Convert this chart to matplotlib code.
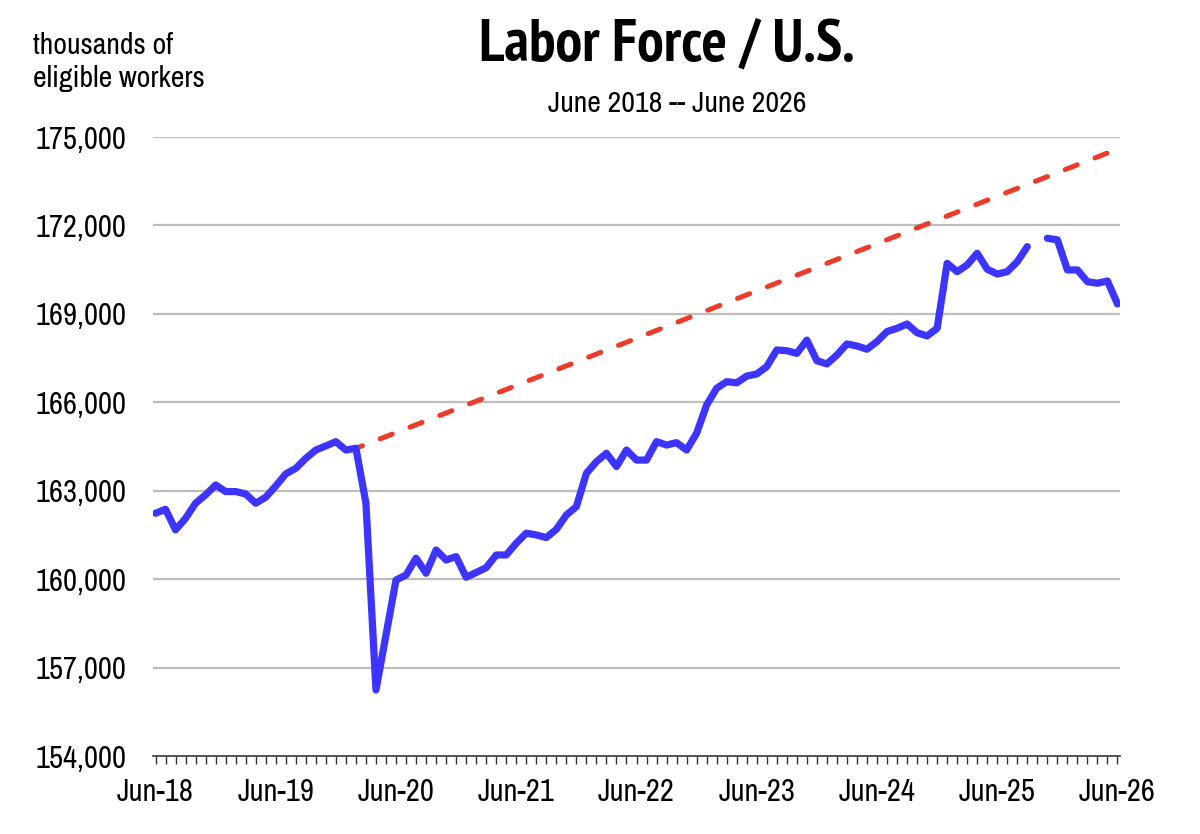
import matplotlib
matplotlib.use("Agg")
import matplotlib.pyplot as plt
from matplotlib import font_manager as fm
import numpy as np

# ---- data ----
months = ["Jun-18","Jul-18","Aug-18","Sep-18","Oct-18","Nov-18","Dec-18",
          "Jan-19","Feb-19","Mar-19","Apr-19","May-19","Jun-19","Jul-19","Aug-19","Sep-19","Oct-19","Nov-19","Dec-19",
          "Jan-20","Feb-20","Mar-20","Apr-20","May-20","Jun-20","Jul-20","Aug-20","Sep-20","Oct-20","Nov-20","Dec-20",
          "Jan-21","Feb-21","Mar-21","Apr-21","May-21","Jun-21","Jul-21","Aug-21","Sep-21","Oct-21","Nov-21","Dec-21",
          "Jan-22","Feb-22","Mar-22","Apr-22","May-22","Jun-22","Jul-22","Aug-22","Sep-22","Oct-22","Nov-22","Dec-22",
          "Jan-23","Feb-23","Mar-23","Apr-23","May-23","Jun-23","Jul-23","Aug-23","Sep-23","Oct-23","Nov-23","Dec-23",
          "Jan-24","Feb-24","Mar-24","Apr-24","May-24","Jun-24","Jul-24","Aug-24","Sep-24","Oct-24","Nov-24","Dec-24",
          "Jan-25","Feb-25","Mar-25","Apr-25","May-25","Jun-25","Jul-25","Aug-25","Sep-25","Oct-25","Nov-25","Dec-25",
          "Jan-26","Feb-26","Mar-26","Apr-26","May-26","Jun-26"]

labor_force = [162235, 162370, 161670, 162065, 162575, 162860, 163195,
               162970, 162970, 162890, 162575, 162780, 163160, 163570, 163760, 164100, 164380, 164520, 164665,
               164380, 164440, 162575, 156240, 158105, 159970, 160140, 160710, 160200, 160990, 160650, 160765,
               160065, 160225, 160390, 160820, 160820, 161220, 161560, 161500, 161410, 161690, 162175, 162460,
               163590, 163985, 164270, 163820, 164380, 164040, 164040, 164665, 164550, 164630, 164380, 164950,
               165910, 166475, 166700, 166660, 166890, 166960, 167210, 167775, 167750, 167660, 168110, 167410,
               167300, 167605, 167980, 167910, 167800, 168060, 168400, 168510, 168655, 168360, 168250, 168510,
               170715, 170430, 170660, 171055, 170515, 170350, 170430, 170770, 171280, None, 171565, 171510,
               170490, 170490, 170090, 170040, 170115, 169335]

trend_months = ["Feb-20", "Jun-20", "Jun-21", "Jun-22", "Jun-23", "Jun-24", "Jun-25", "Jun-26"]
trend_values = [164440, 164970, 166570, 168170, 169780, 171380, 172990, 174590]

tick_labels = ["Jun-18", "Jun-19", "Jun-20", "Jun-21", "Jun-22", "Jun-23", "Jun-24", "Jun-25", "Jun-26"]
y_ticks = [154000, 157000, 160000, 163000, 166000, 169000, 172000, 175000]

# ---- font choice: Arial-Narrow-like faces if present ----
weights = {}
for f in fm.fontManager.ttflist:
    w = f.weight if isinstance(f.weight, int) else 400
    weights.setdefault(f.name, set()).add(w)
prefs = ["Liberation Sans Narrow", "Arial Narrow", "Archivo Narrow", "PT Sans Narrow",
         "Roboto Condensed", "Arimo", "Liberation Sans"]
chosen = next((p for p in prefs if p in weights), "DejaVu Sans")
bold_prefs = ["Liberation Sans Narrow", "Arial Narrow", "Archivo Narrow", "PT Sans Narrow",
              "Roboto Condensed", "Fira Sans Condensed", "Asap Condensed", "Encode Sans Condensed",
              "Barlow Semi Condensed", "IBM Plex Sans Condensed", "Liberation Sans"]
bold_font = next((p for p in bold_prefs if p in weights and max(weights[p]) >= 700), "Liberation Sans")
plt.rcParams["font.family"] = [chosen, "Liberation Sans", "DejaVu Sans"]

fig = plt.figure(figsize=(12, 8.34), dpi=100)
ax = fig.add_axes([153/1200, 1 - 756/834, (1120 - 153)/1200, (756 - 137)/834])

idx = {m: i for i, m in enumerate(months)}
x = np.arange(len(months))
y = np.array([np.nan if v is None else v for v in labor_force], dtype=float)

ax.plot(x, y, color="#3D35FF", lw=5.2, solid_joinstyle="round", solid_capstyle="round", zorder=3)
tx = [idx[m] for m in trend_months]
ax.plot(tx, trend_values, color="#EE3A28", lw=3.6, linestyle=(1.2, (2.6, 3.8)),
        dash_capstyle="round", zorder=2)

ax.set_xlim(-0.25, len(months) - 1 + 0.25)
ax.set_ylim(154000, 175000)

ax.set_yticks(y_ticks)
ax.set_yticklabels([f"{v:,}" for v in y_ticks], fontsize=22)
ax.tick_params(axis="y", length=0, pad=19)
for v in y_ticks[1:]:
    ax.axhline(v, color="#BDBDBD", lw=1.6, zorder=1)

ax.set_xticks([idx[t] for t in tick_labels])
ax.set_xticklabels(tick_labels, fontsize=22)
ax.set_xticks(x, minor=True)
ax.tick_params(axis="x", which="both", direction="out", length=6, width=1, color="#333333", pad=10)

for s in ["top", "right", "left"]:
    ax.spines[s].set_visible(False)
ax.spines["bottom"].set_color("#333333")
ax.spines["bottom"].set_linewidth(1.2)

fig.text(667/1200, 1 - 46/834, "Labor Force / U.S.", ha="center", va="center",
         fontsize=43, fontweight="bold", family=[bold_font, "Liberation Sans", "DejaVu Sans"])
fig.text(677/1200, 1 - 104/834, "June 2018 -- June 2026", ha="center", va="center", fontsize=21.5)
fig.text(33/1200, 1 - 45/834, "thousands of", ha="left", va="center", fontsize=21.5)
fig.text(33/1200, 1 - 78/834, "eligible workers", ha="left", va="center", fontsize=21.5)

fig.savefig("out.png", dpi=100, facecolor="white")
